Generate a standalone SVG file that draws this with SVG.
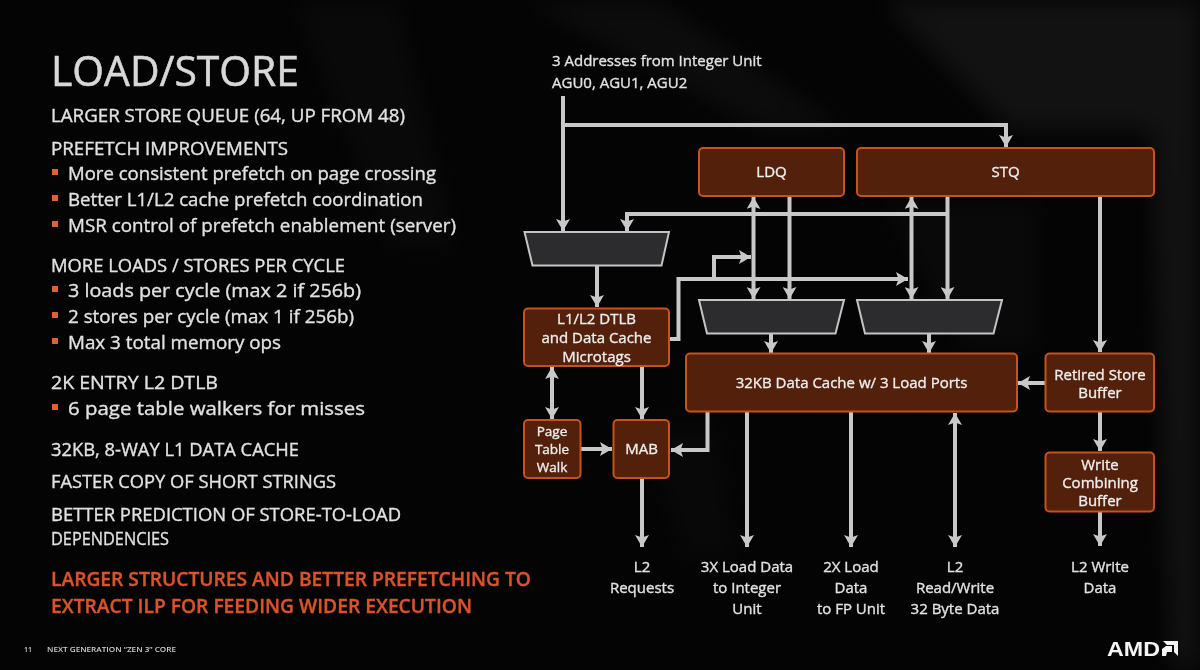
<svg xmlns="http://www.w3.org/2000/svg" width="1200" height="670" viewBox="0 0 1200 670">
  <style>
    text { font-family: "Open Sans", "Noto Sans", "Liberation Sans", sans-serif; fill: #e2e2e2; stroke: #e2e2e2; stroke-width: .35px; font-weight: 500; }
    .title { font-size: 42px; fill: #d8d8d8; stroke: #d8d8d8; stroke-width: .6px; }
    .head { font-size: 19px; }
    .item { font-size: 19px; }
    .accent { font-size: 19.500px; fill: #d9542b; stroke: #d9542b; font-weight: 600; }
    .bullet { fill: #e0622c; }
    .lbl { font-size: 15px; text-anchor: middle; }
    .nt { font-size: 15px; text-anchor: middle; fill: #eee; stroke: #eee; }
    .box { fill: #52200b; stroke: #c4531f; stroke-width: 2; }
    .mux { fill: #2c2c2e; stroke: #c4c4c4; stroke-width: 2; }
    .wire { fill: none; stroke: #c8c8c8; stroke-width: 4; }
    .foot { font-size: 7px; fill: #cfcfcf; stroke: none; font-weight: 600; }
    .logo { font-family: "Liberation Sans", sans-serif; font-weight: 700; font-size: 20px; fill: #f4f4f4; stroke: none; }
    .streak { fill: #fff; }
  </style>
  <defs>
    <marker id="head" markerUnits="userSpaceOnUse" markerWidth="13" markerHeight="14" refX="12" refY="7" orient="auto">
      <path d="M0 0L12 7L0 14L2.500 7Z" fill="#c8c8c8"/>
    </marker>
    <marker id="tail" markerUnits="userSpaceOnUse" markerWidth="13" markerHeight="14" refX="0" refY="7" orient="auto">
      <path d="M12 0L0 7L12 14L9.500 7Z" fill="#c8c8c8"/>
    </marker>
    <filter id="soft" x="-30%" y="-30%" width="160%" height="160%"><feGaussianBlur stdDeviation="12"/></filter>
  </defs>

  <rect width="1200" height="670" fill="#040404"/>

  <!-- dim architectural backdrop -->
  <g filter="url(#soft)">
    <path class="streak" opacity=".035" d="M520 0L660 0L850 130L760 130Z"/>
    <path class="streak" opacity=".06" d="M880 0L1200 0L1200 130L1010 130Z"/>
    <path class="streak" opacity=".06" d="M1150 130L1200 130L1200 670L1170 670Z"/>
    <path class="streak" opacity=".025" d="M880 200L1040 200L1040 350L960 350Z"/>
    <path class="streak" opacity=".025" d="M290 0L400 0L460 250L390 250Z"/>
    <path class="streak" opacity=".02" d="M640 420L720 420L740 560L680 560Z"/>
  </g>

  <!-- slide copy -->
  <text class="title" x="51" y="86" textLength="248" lengthAdjust="spacingAndGlyphs">LOAD/STORE</text>
  <text class="head" x="51" y="122" textLength="354" lengthAdjust="spacingAndGlyphs">LARGER STORE QUEUE (64, UP FROM 48)</text>
  <text class="head" x="51" y="155" textLength="237" lengthAdjust="spacingAndGlyphs">PREFETCH IMPROVEMENTS</text>
  <rect class="bullet" x="52" y="169" width="6" height="6"/>
  <text class="item" x="68" y="180" textLength="368" lengthAdjust="spacingAndGlyphs">More consistent prefetch on page crossing</text>
  <rect class="bullet" x="52" y="195" width="6" height="6"/>
  <text class="item" x="68" y="206" textLength="355" lengthAdjust="spacingAndGlyphs">Better L1/L2 cache prefetch coordination</text>
  <rect class="bullet" x="52" y="221" width="6" height="6"/>
  <text class="item" x="68" y="232" textLength="388" lengthAdjust="spacingAndGlyphs">MSR control of prefetch enablement (server)</text>
  <text class="head" x="51" y="272" textLength="294" lengthAdjust="spacingAndGlyphs">MORE LOADS / STORES PER CYCLE</text>
  <rect class="bullet" x="52" y="286" width="6" height="6"/>
  <text class="item" x="68" y="297" textLength="293" lengthAdjust="spacingAndGlyphs">3 loads per cycle (max 2 if 256b)</text>
  <rect class="bullet" x="52" y="312" width="6" height="6"/>
  <text class="item" x="68" y="323" textLength="286" lengthAdjust="spacingAndGlyphs">2 stores per cycle (max 1 if 256b)</text>
  <rect class="bullet" x="52" y="338" width="6" height="6"/>
  <text class="item" x="68" y="349" textLength="213" lengthAdjust="spacingAndGlyphs">Max 3 total memory ops</text>
  <text class="head" x="51" y="389" textLength="167" lengthAdjust="spacingAndGlyphs">2K ENTRY L2 DTLB</text>
  <rect class="bullet" x="52" y="404" width="6" height="6"/>
  <text class="item" x="68" y="415" textLength="297" lengthAdjust="spacingAndGlyphs">6 page table walkers for misses</text>
  <text class="head" x="51" y="456" textLength="248" lengthAdjust="spacingAndGlyphs">32KB, 8-WAY L1 DATA CACHE</text>
  <text class="head" x="51" y="488" textLength="285" lengthAdjust="spacingAndGlyphs">FASTER COPY OF SHORT STRINGS</text>
  <text class="head" x="51" y="521" textLength="350" lengthAdjust="spacingAndGlyphs">BETTER PREDICTION OF STORE-TO-LOAD</text>
  <text class="head" x="51" y="545" textLength="118" lengthAdjust="spacingAndGlyphs">DEPENDENCIES</text>
  <text class="accent" x="51" y="586" textLength="480" lengthAdjust="spacingAndGlyphs">LARGER STRUCTURES AND BETTER PREFETCHING TO</text>
  <text class="accent" x="51" y="613" textLength="421" lengthAdjust="spacingAndGlyphs">EXTRACT ILP FOR FEEDING WIDER EXECUTION</text>

  <text class="foot" x="24" y="652">11</text>
  <text class="foot" x="47" y="652" textLength="129" lengthAdjust="spacingAndGlyphs">NEXT GENERATION “ZEN 3” CORE</text>

  <!-- connectors -->
  <g id="connectors">
    <path class="wire" d="M563 96V231" marker-end="url(#head)"/>
    <path class="wire" d="M563 125H1006V147" marker-end="url(#head)"/>
    <path class="wire" d="M947.500 196V299" marker-end="url(#head)"/>
    <path class="wire" d="M947.500 214H627V231" marker-end="url(#head)"/>
    <path class="wire" d="M753.500 197V299" marker-start="url(#tail)" marker-end="url(#head)"/>
    <path class="wire" d="M789.500 196V299" marker-end="url(#head)"/>
    <path class="wire" d="M911.500 197V299" marker-start="url(#tail)" marker-end="url(#head)"/>
    <path class="wire" d="M669 339H678.500V279H908" marker-end="url(#head)"/>
    <path class="wire" d="M714 279V257H751" marker-end="url(#head)"/>
    <path class="wire" d="M597 266V307" marker-end="url(#head)"/>
    <path class="wire" d="M771 334V353" marker-end="url(#head)"/>
    <path class="wire" d="M929 334V353" marker-end="url(#head)"/>
    <path class="wire" d="M1100 196V352" marker-end="url(#head)"/>
    <path class="wire" d="M1045 383H1018" marker-end="url(#head)"/>
    <path class="wire" d="M1100 412V451" marker-end="url(#head)"/>
    <path class="wire" d="M1100 512V546" marker-end="url(#head)"/>
    <path class="wire" d="M747 412V547" marker-end="url(#head)"/>
    <path class="wire" d="M851 412V547" marker-end="url(#head)"/>
    <path class="wire" d="M955 413V547" marker-start="url(#tail)" marker-end="url(#head)"/>
    <path class="wire" d="M707.500 412V450H671" marker-end="url(#head)"/>
    <path class="wire" d="M642 366V419" marker-end="url(#head)"/>
    <path class="wire" d="M552 367V419" marker-start="url(#tail)" marker-end="url(#head)"/>
    <path class="wire" d="M581 449H612" marker-end="url(#head)"/>
    <path class="wire" d="M642 478V547" marker-end="url(#head)"/>
  </g>

  <!-- pipeline blocks -->
  <g id="ldq"><rect class="box" x="699" y="148" width="145" height="48" rx="4"/><text class="nt" x="771.500" y="177">LDQ</text></g>
  <g id="stq"><rect class="box" x="857" y="148" width="297" height="48" rx="4"/><text class="nt" x="1005.500" y="177">STQ</text></g>
  <g id="mux-agu"><path class="mux" d="M524.500 232H669L661.500 265.500H532.500Z"/></g>
  <g id="mux-load"><path class="mux" d="M699 300H844L835.500 333.500H707Z"/></g>
  <g id="mux-store"><path class="mux" d="M857 300H1002L993.500 333.500H865Z"/></g>
  <g id="dtlb"><rect class="box" x="524" y="308.500" width="145" height="57.500" rx="4"/>
    <text class="nt" x="596.500" y="324">L1/L2 DTLB</text><text class="nt" x="596.500" y="343">and Data Cache</text><text class="nt" x="596.500" y="362">Microtags</text></g>
  <g id="dcache"><rect class="box" x="686" y="353.500" width="331" height="58" rx="4"/><text class="nt" x="851.500" y="388">32KB Data Cache w/ 3 Load Ports</text></g>
  <g id="retired"><rect class="box" x="1045.500" y="353.500" width="108.500" height="58" rx="4"/>
    <text class="nt" x="1100" y="380">Retired Store</text><text class="nt" x="1100" y="398">Buffer</text></g>
  <g id="wcb"><rect class="box" x="1045.500" y="452.500" width="108.500" height="59" rx="4"/>
    <text class="nt" x="1100" y="470">Write</text><text class="nt" x="1100" y="488">Combining</text><text class="nt" x="1100" y="506">Buffer</text></g>
  <g id="ptw"><rect class="box" x="524" y="420" width="56.500" height="58" rx="4"/>
    <text class="nt" x="552" y="436" style="font-size:13.500px">Page</text><text class="nt" x="552" y="454" style="font-size:13.500px">Table</text><text class="nt" x="552" y="472" style="font-size:13.500px">Walk</text></g>
  <g id="mab"><rect class="box" x="613.500" y="420" width="55.500" height="58" rx="4"/><text class="nt" x="641.500" y="454">MAB</text></g>

  <!-- port labels -->
  <text class="lbl" style="text-anchor:start" x="552" y="66">3 Addresses from Integer Unit</text>
  <text class="lbl" style="text-anchor:start" x="552" y="88">AGU0, AGU1, AGU2</text>
  <text class="lbl" x="642" y="572">L2</text><text class="lbl" x="642" y="593">Requests</text>
  <text class="lbl" x="747" y="572">3X Load Data</text><text class="lbl" x="747" y="593">to Integer</text><text class="lbl" x="747" y="614">Unit</text>
  <text class="lbl" x="851" y="572">2X Load</text><text class="lbl" x="851" y="593">Data</text><text class="lbl" x="851" y="614">to FP Unit</text>
  <text class="lbl" x="955" y="572">L2</text><text class="lbl" x="955" y="593">Read/Write</text><text class="lbl" x="955" y="614">32 Byte Data</text>
  <text class="lbl" x="1100" y="572">L2 Write</text><text class="lbl" x="1100" y="593">Data</text>

  <!-- brand mark -->
  <g id="brand">
    <text class="logo" x="1107" y="656" textLength="53" lengthAdjust="spacingAndGlyphs">AMD</text>
    <path fill="#f4f4f4" d="M1163 641H1178V656L1174 652V645H1167ZM1162 656V649L1166 646H1172V652H1167L1166 656Z"/>
  </g>
</svg>
